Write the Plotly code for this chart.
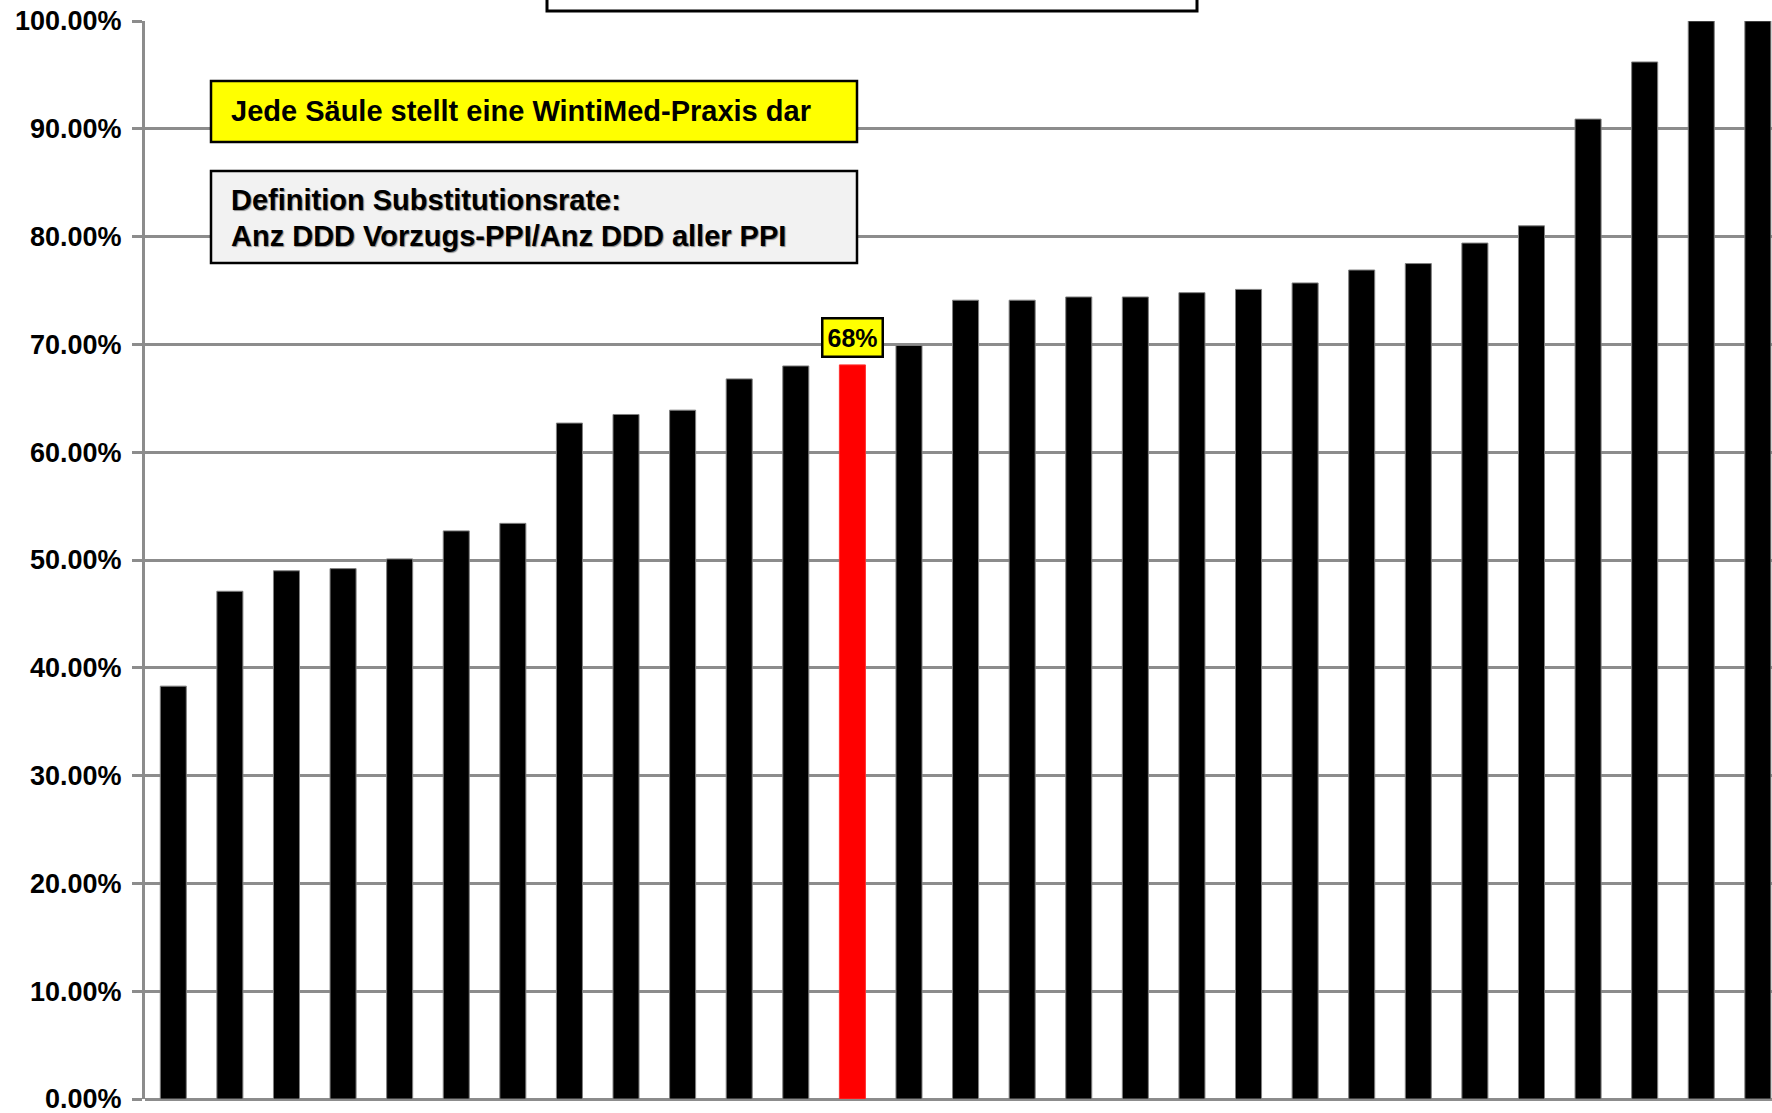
import plotly.graph_objects as go

# ---- data ----
practices = [f"Praxis {i}" for i in range(1, 30)]
rates = [0.383, 0.471, 0.490, 0.492, 0.501, 0.527, 0.534, 0.627, 0.635, 0.639,
         0.668, 0.680, 0.681, 0.699, 0.741, 0.741, 0.744, 0.744, 0.748, 0.751,
         0.757, 0.769, 0.775, 0.794, 0.810, 0.909, 0.962, 1.000, 1.000]
highlight_index = 12
highlight_label = "68%"
tick_vals = [i / 10 for i in range(11)]

FONT = "Liberation Sans, Arial, sans-serif"
W, H = 1772, 1113
L, R, T, B = 145, 0, 21, 14

colors = ["#ff0000" if i == highlight_index else "#000000" for i in range(len(rates))]
line_colors = ["#ff3030" if i == highlight_index else "#808080" for i in range(len(rates))]

fig = go.Figure()
fig.add_trace(go.Bar(
    x=list(range(len(rates))), y=rates,
    marker=dict(color=colors, line=dict(color=line_colors, width=1)),
    width=0.46, hoverinfo="skip", cliponaxis=False,
))

# px -> paper helpers for overlay boxes (layout, not data)
def px(xp):
    return (xp - L) / (W - L - R)

def py(yp):
    return (H - B - yp) / (H - T - B)

shapes = [
    # cropped title box at top
    dict(type="rect", xref="paper", yref="paper", x0=px(547), x1=px(1197), y0=py(11), y1=py(-60),
         line=dict(color="black", width=3), fillcolor="white", layer="above"),
    # yellow info box
    dict(type="rect", xref="paper", yref="paper", x0=px(211), x1=px(857), y0=py(142), y1=py(81),
         line=dict(color="black", width=2.5), fillcolor="#ffff00", layer="above"),
    # grey definition box
    dict(type="rect", xref="paper", yref="paper", x0=px(211), x1=px(857), y0=py(263), y1=py(171),
         line=dict(color="black", width=2.5), fillcolor="#f2f2f2", layer="above"),
]

annotations = [
    dict(xref="paper", yref="paper", x=px(229), y=py(111), xanchor="left", yanchor="middle",
         text="Jede Säule stellt eine WintiMed-Praxis dar", showarrow=False,
         font=dict(family=FONT, size=29, color="black", weight="bold")),
    dict(xref="paper", yref="paper", x=px(229), y=py(200), xanchor="left", yanchor="middle",
         text="Definition Substitutionsrate:", showarrow=False,
         font=dict(family=FONT, size=29, color="black", weight="bold", shadow="1px 1px 1px #8a8a8a")),
    dict(xref="paper", yref="paper", x=px(229), y=py(236), xanchor="left", yanchor="middle",
         text="Anz DDD Vorzugs-PPI/Anz DDD aller PPI", showarrow=False,
         font=dict(family=FONT, size=29, color="black", weight="bold", shadow="1px 1px 1px #8a8a8a")),
    dict(x=highlight_index, y=rates[highlight_index], xref="x", yref="y",
         text=highlight_label, showarrow=False, yanchor="bottom", yshift=7,
         bgcolor="#ffff00", bordercolor="black", borderwidth=2.5, borderpad=4,
         font=dict(family=FONT, size=25, color="black", weight="bold")),
]

fig.update_layout(
    width=W, height=H,
    margin=dict(l=L, r=R, t=T, b=B, pad=0),
    paper_bgcolor="white", plot_bgcolor="white",
    showlegend=False, bargap=0.54,
    shapes=shapes, annotations=annotations,
    xaxis=dict(range=[-0.5, 28.25], showticklabels=False, showgrid=False, zeroline=False,
               showline=False, ticks="", fixedrange=True),
    yaxis=dict(range=[0, 1], tickvals=tick_vals, tickformat=".2%",
               showgrid=True, gridcolor="#8c8c8c", gridwidth=2.5,
               showline=True, linecolor="#8c8c8c", linewidth=3,
               zeroline=True, zerolinecolor="#8c8c8c", zerolinewidth=3,
               ticks="outside", ticklen=10, tickcolor="#8c8c8c", tickwidth=2.5,
               ticklabelstandoff=5, ticklabeloverflow="allow",
               tickfont=dict(family=FONT, size=27, color="black", weight="bold")),
)

fig.write_html("out.html")
